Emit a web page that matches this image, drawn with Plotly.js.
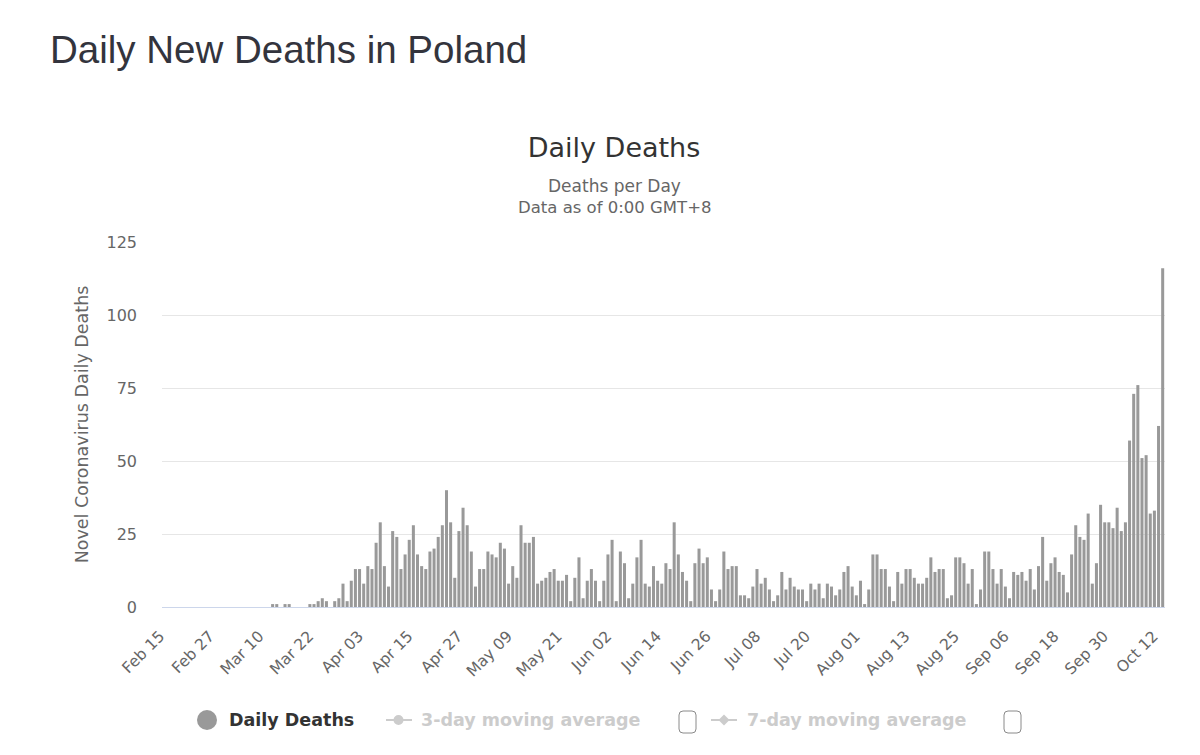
<!DOCTYPE html>
<html>
<head>
<meta charset="utf-8">
<script src="https://cdn.plot.ly/plotly-3.0.1.min.js"></script>
<style>
  html, body { margin: 0; padding: 0; background: #ffffff; }
  #chart { width: 1200px; height: 755px; }
</style>
</head>
<body>
<div id="chart"></div>
<script>
// ---- Data ----
const firstDate = '2020-02-15';           // first category (Feb 15, 2020)
const dailyDeaths = [
  // Feb 15 - Mar 11
  0,0,0,0,0,0,0,0,0,0, 0,0,0,0,0,0,0,0,0,0, 0,0,0,0,0,0,
  // Mar 12 - Mar 22
  1,1,0,1,1,0,0,0,0,1,1,
  // Mar 23 - Mar 31
  2,3,2,0,2,3,8,2,9,
  // Apr 01 - May 05
  13,13,8,14,13, 22,29,14,7,26, 24,13,18,23,28, 18,14,13,19,20,
  24,28,40,29,10, 26,34,28,19,7, 13,13,19,18,17,
  // May 06 - Jun 15
  22,20,8,14,10, 28,22,22,24,8, 9,10,12,13,9, 9,11,2,10,17,
  3,9,13,9,2, 9,18,23,2,19, 15,3,8,17,23, 8,7,14,9,8, 15,
  // Jun 16 - Jul 26
  13,29,18,12,9, 2,15,20,15,17, 6,2,6,19,13, 14,14,4,4,3,
  7,13,8,10,6, 2,4,12,6,10, 7,6,6,2,8, 6,8,3,8,7, 4,
  // Jul 27 - Sep 06
  6,12,14,7,4, 9,1,6,18,18, 13,13,7,2,12, 8,13,13,10,8,
  8,10,17,12,13, 13,3,4,17,17, 15,8,13,1,6, 19,19,13,8,13, 7,3,
  // Sep 07 - Oct 13
  12,11,12,9,13, 6,14,24,9,15, 17,12,11,5,18, 28,24,23,32,8,
  15,35,29,29,27, 34,26,29,57,73, 76,51,52,32,33, 62,116
];
const yTickValues = [0, 25, 50, 75, 100, 125];
const seriesNames = ['Daily Deaths', '3-day moving average', '7-day moving average'];
const chartTitle = 'Daily Deaths';
const subtitleLines = ['Deaths per Day', 'Data as of 0:00 GMT+8'];
const pageHeading = 'Daily New Deaths in Poland';
const yAxisTitle = 'Novel Coronavirus Daily Deaths';

// ---- category dates ----
const DAY = 86400000;
const t0 = Date.parse(firstDate + 'T00:00:00Z');
function iso(ms) { return new Date(ms).toISOString().slice(0, 19).replace('T', ' '); }
const dates = dailyDeaths.map((_, i) => iso(t0 + i * DAY));
const tLast = t0 + (dailyDeaths.length - 1) * DAY;

// ---- pixel helpers for decoration placement ----
const PL = 162, PR = 1165, PT = 242, PB = 607;
const px = v => (v - PL) / (PR - PL);
const py = v => (PB - v) / (PB - PT);

const FONT = 'DejaVu Sans, Verdana, sans-serif';

const bars = {
  type: 'bar',
  x: dates,
  y: dailyDeaths,
  name: seriesNames[0],
  marker: { color: '#999999', line: { width: 0 } },
  showlegend: false,
  hoverinfo: 'x+y'
};

function roundRect(x0, y0, x1, y1, r) {
  const X0 = px(x0), X1 = px(x1), Y0 = py(y0), Y1 = py(y1);
  const rx = r / (PR - PL), ry = r / (PB - PT);
  return `M${X0 + rx},${Y0} L${X1 - rx},${Y0} Q${X1},${Y0} ${X1},${Y0 - ry} ` +
         `L${X1},${Y1 + ry} Q${X1},${Y1} ${X1 - rx},${Y1} L${X0 + rx},${Y1} ` +
         `Q${X0},${Y1} ${X0},${Y1 + ry} L${X0},${Y0 - ry} Q${X0},${Y0} ${X0 + rx},${Y0} Z`;
}
function diamond(cx, cy, r) {
  return `M${px(cx)},${py(cy - r)} L${px(cx + r)},${py(cy)} L${px(cx)},${py(cy + r)} L${px(cx - r)},${py(cy)} Z`;
}

const LY = 720;
const shapes = [
  { type: 'circle', xref: 'paper', yref: 'paper', x0: px(197), x1: px(217), y0: py(730), y1: py(710),
    fillcolor: '#999999', line: { width: 0 } },
  { type: 'line', xref: 'paper', yref: 'paper', x0: px(386), x1: px(412), y0: py(LY), y1: py(LY),
    line: { color: '#cccccc', width: 2 } },
  { type: 'circle', xref: 'paper', yref: 'paper', x0: px(393.5), x1: px(403.5), y0: py(725), y1: py(715),
    fillcolor: '#cccccc', line: { width: 0 } },
  { type: 'path', xref: 'paper', yref: 'paper', path: roundRect(679, 711, 696, 733, 4),
    fillcolor: '#ffffff', line: { color: '#8a8a8a', width: 1 } },
  { type: 'line', xref: 'paper', yref: 'paper', x0: px(711), x1: px(737), y0: py(LY), y1: py(LY),
    line: { color: '#cccccc', width: 2 } },
  { type: 'path', xref: 'paper', yref: 'paper', path: diamond(724, LY, 5.5),
    fillcolor: '#cccccc', line: { width: 0 } },
  { type: 'path', xref: 'paper', yref: 'paper', path: roundRect(1004, 711, 1021, 733, 4),
    fillcolor: '#ffffff', line: { color: '#8a8a8a', width: 1 } }
];

const annotations = [
  { text: pageHeading, xref: 'paper', yref: 'paper', x: px(48), y: py(49), xanchor: 'left', yanchor: 'middle',
    showarrow: false, font: { family: 'Liberation Sans, Arial, sans-serif', size: 38.5, color: '#33343d' } },
  { text: subtitleLines[0], xref: 'paper', yref: 'paper', x: px(614), y: py(186), xanchor: 'center', yanchor: 'middle',
    showarrow: false, font: { family: FONT, size: 17, color: '#666666' } },
  { text: subtitleLines[1], xref: 'paper', yref: 'paper', x: px(614), y: py(208), xanchor: 'center', yanchor: 'middle',
    showarrow: false, font: { family: FONT, size: 16.5, color: '#666666' } },
  { text: '<b>' + seriesNames[0] + '</b>', xref: 'paper', yref: 'paper', x: px(227), y: py(LY), xanchor: 'left', yanchor: 'middle',
    showarrow: false, font: { family: FONT, size: 17.5, color: '#333333' } },
  { text: '<b>' + seriesNames[1] + '</b>', xref: 'paper', yref: 'paper', x: px(419), y: py(LY), xanchor: 'left', yanchor: 'middle',
    showarrow: false, font: { family: FONT, size: 17.5, color: '#cccccc' } },
  { text: '<b>' + seriesNames[2] + '</b>', xref: 'paper', yref: 'paper', x: px(745), y: py(LY), xanchor: 'left', yanchor: 'middle',
    showarrow: false, font: { family: FONT, size: 17.5, color: '#cccccc' } }
];

const layout = {
  width: 1200, height: 755,
  margin: { l: PL, r: 1200 - PR, t: PT, b: 755 - PB, pad: 0 },
  paper_bgcolor: '#ffffff', plot_bgcolor: '#ffffff',
  showlegend: false,
  bargap: 0.27,
  title: {
    text: chartTitle,
    x: 614 / 1200, xref: 'container', xanchor: 'center',
    y: 1 - 148 / 755, yref: 'container', yanchor: 'middle',
    font: { family: FONT, size: 27, color: '#333333' }
  },
  xaxis: {
    type: 'date',
    range: [iso(t0 - 0.72 * DAY), iso(tLast + 0.56 * DAY)],
    tick0: firstDate, dtick: 12 * DAY, tickformat: '%b %d',
    tickangle: -45,
    tickfont: { family: FONT, size: 15.5, color: '#666666' },
    showgrid: false, zeroline: false,
    showline: true, linecolor: '#ccd6eb', linewidth: 1,
    ticks: '', ticklabelstandoff: 13, ticklabelshift: -5,
    fixedrange: true
  },
  yaxis: {
    range: [0, 125],
    tickvals: yTickValues,
    tickfont: { family: FONT, size: 16, color: '#666666' },
    gridcolor: '#e6e6e6', gridwidth: 1,
    showline: false, zeroline: false,
    ticks: '', ticklabelstandoff: 24,
    title: { text: yAxisTitle, font: { family: FONT, size: 17.5, color: '#666666' }, standoff: 13 },
    fixedrange: true
  },
  shapes: shapes,
  annotations: annotations
};

Plotly.newPlot('chart', [bars], layout, { displayModeBar: false, staticPlot: false });
</script>
</body>
</html>
